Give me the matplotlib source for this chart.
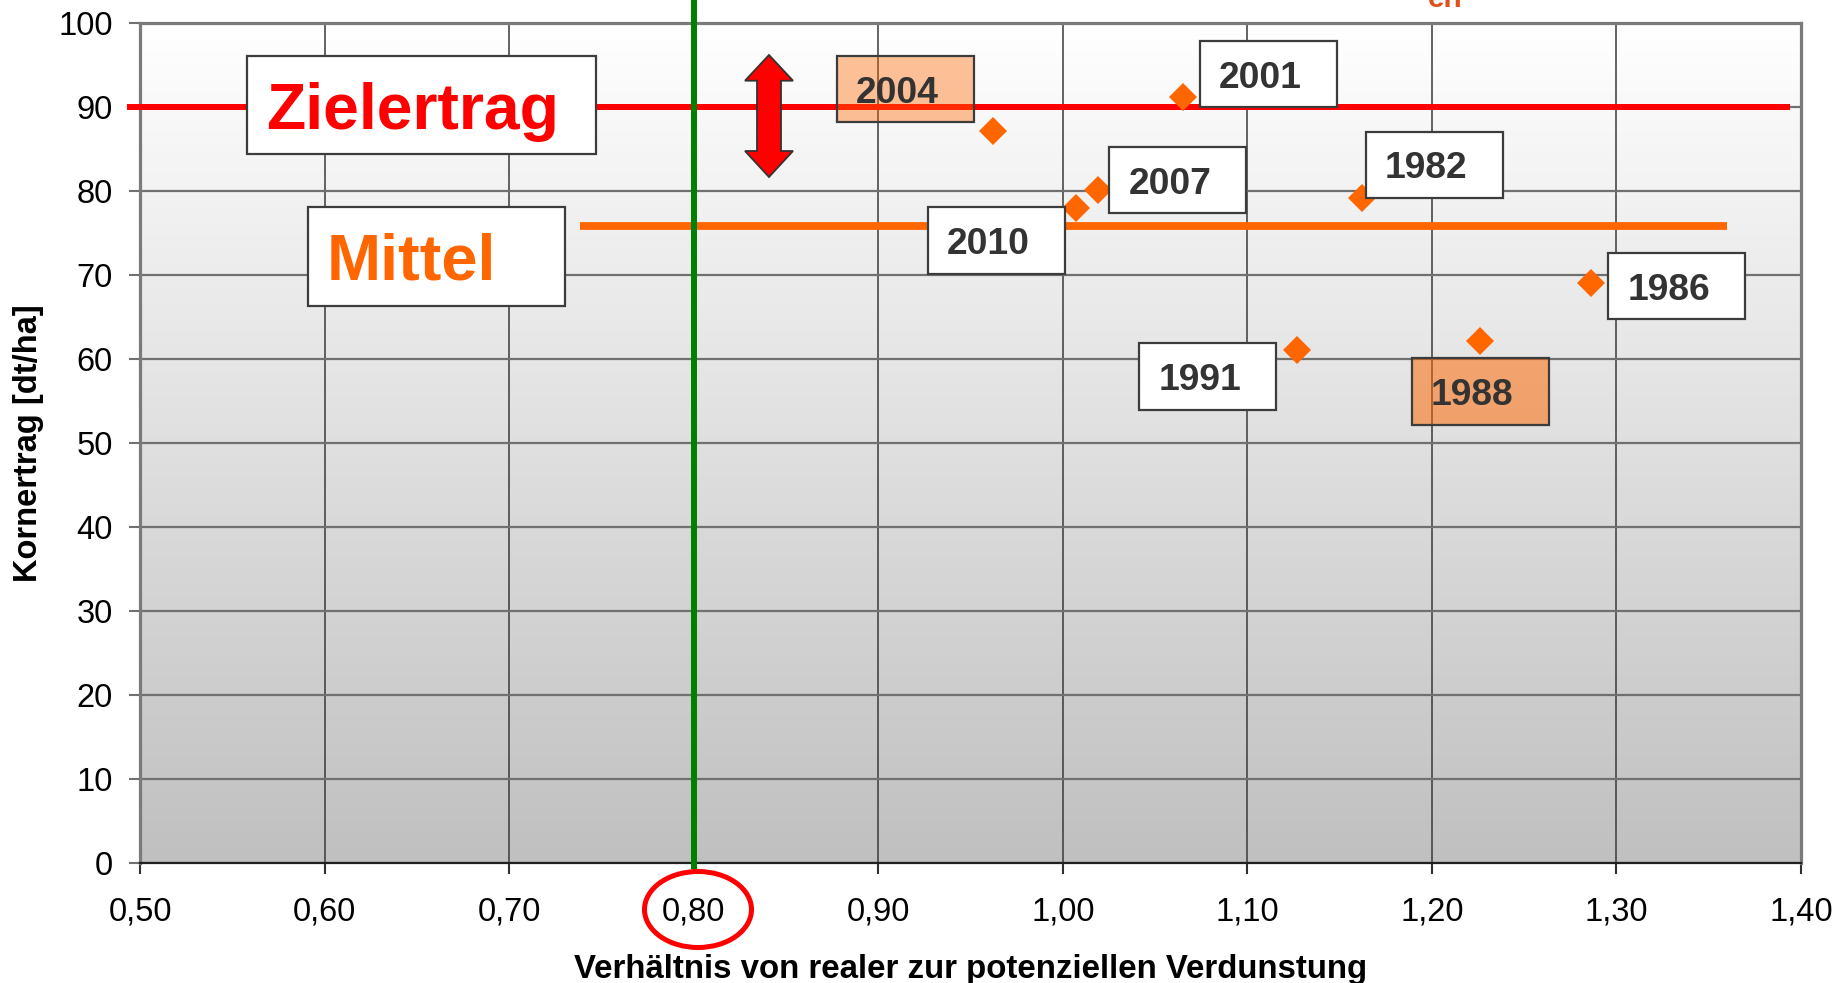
import numpy as np
import matplotlib
matplotlib.use("Agg")
import matplotlib.pyplot as plt
from matplotlib.colors import LinearSegmentedColormap
from matplotlib.patches import Rectangle, Ellipse, Polygon
from matplotlib.ticker import FuncFormatter

plt.rcParams['font.family'] = ['Liberation Sans', 'DejaVu Sans']

# ---- data ----
years = ['2004', '2001', '2007', '2010', '1982', '1986', '1991', '1988']
ratio = [0.962, 1.065, 1.019, 1.007, 1.162, 1.286, 1.127, 1.226]
yield_dt = [87.1, 91.2, 80.1, 78.0, 79.1, 69.0, 61.0, 62.1]
target_yield = 90.0
mean_yield = 75.8
ratio_threshold = 0.80
x_ticks = [0.50, 0.60, 0.70, 0.80, 0.90, 1.00, 1.10, 1.20, 1.30, 1.40]
y_ticks = [0, 10, 20, 30, 40, 50, 60, 70, 80, 90, 100]

# ---- layout (figure pixels, origin top-left) ----
W, H = 1846, 983
box_px = {
    '2004': (837, 55.7), '2001': (1200, 40.7), '2007': (1109.3, 146.7),
    '2010': (927.7, 207.3), '1982': (1366, 131.5), '1986': (1608.3, 252.7),
    '1991': (1139.3, 343.3), '1988': (1411.7, 358.3),
}
box_fill = {'2004': ('#FF6600', 0.40), '1988': ('#FF6600', 0.52)}
BOX_W, BOX_H = 137, 66.5

fig = plt.figure(figsize=(W / 100, H / 100), dpi=100)
ax_l, ax_r, ax_t, ax_b = 140, 1801, 22.7, 862.7
ax = fig.add_axes([ax_l / W, 1 - ax_b / H, (ax_r - ax_l) / W, (ax_b - ax_t) / H])

ax.set_xlim(0.5, 1.4)
ax.set_ylim(0, 100)

# gradient background
cmap = LinearSegmentedColormap.from_list('bg', ['#C0C0C0', '#FFFFFF'])
ax.imshow(np.linspace(1, 0, 256)[:, None], extent=(0.5, 1.4, 0, 100),
          aspect='auto', cmap=cmap, vmin=0, vmax=1, zorder=0)

ax.set_axisbelow(True)
ax.xaxis.grid(True, color='#3a3a3a', lw=1.1)
ax.yaxis.grid(True, color='#707070', lw=1.6)

ax.set_xticks(x_ticks)
ax.set_yticks(y_ticks)
ax.xaxis.set_major_formatter(FuncFormatter(lambda v, p: f"{v:.2f}".replace('.', ',')))
ax.tick_params(axis='both', labelsize=23.5, length=8, width=1.5, color='#707070',
               direction='out')
ax.tick_params(axis='x', pad=16.5, color='#303030')
ax.tick_params(axis='y', pad=11.5)

for s in ['left', 'top', 'right']:
    ax.spines[s].set_color('#7a7a7a')
    ax.spines[s].set_linewidth(2.3)
ax.spines['bottom'].set_color('#202020')
ax.spines['bottom'].set_linewidth(1.6)

# reference lines
ax.plot([0.4928, 1.3938], [target_yield, target_yield], color='#FF0000', lw=4.3,
        solid_capstyle='butt', clip_on=False, zorder=3)
ax.plot([0.7384, 1.360], [mean_yield, mean_yield], color='#FF6600', lw=5.6,
        solid_capstyle='butt', clip_on=False, zorder=3)
ax.plot([ratio_threshold, ratio_threshold], [-0.7, 103], color='#008000', lw=4.3,
        solid_capstyle='butt', clip_on=False, zorder=5)

# data points
ax.plot(ratio, yield_dt, linestyle='none', marker='D', color='#FF6600', ms=14,
        mew=0, zorder=4, clip_on=False)

ax.set_xlabel('Verhältnis von realer zur potenziellen Verdunstung', fontsize=23.8,
              fontweight='bold')
ax.xaxis.set_label_coords(0.5, -0.109)
ax.set_ylabel('Kornertrag [dt/ha]', fontsize=23.5, fontweight='bold')
ax.yaxis.set_label_coords((44 - ax_l) / (ax_r - ax_l), 0.5)


def fx(x):
    return x / W


def fy(y):
    return 1 - y / H


def box(x, y, w, h, fc='white', alpha=1.0, lw=1.6):
    r = Rectangle((fx(x), fy(y + h)), w / W, h / H, transform=fig.transFigure,
                  facecolor=fc, alpha=alpha, edgecolor='none', zorder=10)
    fig.add_artist(r)
    e = Rectangle((fx(x), fy(y + h)), w / W, h / H, transform=fig.transFigure,
                  facecolor='none', edgecolor='#3c3c3c', lw=lw, zorder=11)
    fig.add_artist(e)


# year labels
for yr in years:
    bx, by = box_px[yr]
    fc, a = box_fill.get(yr, ('white', 1.0))
    box(bx, by, BOX_W, BOX_H, fc=fc, alpha=a)
    fig.text(fx(bx + 19), fy(by + 47), yr, fontsize=26.8, fontweight='bold',
             color='#333333', ha='left', va='baseline', zorder=12)

# Zielertrag / Mittel boxes
box(247, 55.7, 348.5, 98.6)
fig.text(fx(266), fy(129.3), 'Zielertrag', fontsize=46.3, fontweight='bold',
         color='#FF0000', ha='left', va='baseline', zorder=12)
box(308, 206.7, 257, 99)
fig.text(fx(326.5), fy(279.3), 'Mittel', fontsize=46.8, fontweight='bold',
         color='#FF6600', ha='left', va='baseline', zorder=12)

# double arrow
cx = 769
pts = [(cx, 55), (cx + 24, 80.7), (cx + 12, 80.7), (cx + 12, 151), (cx + 24, 151),
       (cx, 177), (cx - 24, 151), (cx - 12, 151), (cx - 12, 80.7), (cx - 24, 80.7)]
arrow = Polygon([(fx(px), fy(py)) for px, py in pts], closed=True,
                transform=fig.transFigure, facecolor='#FF0000', edgecolor='#333333',
                lw=1.3, zorder=12)
fig.add_artist(arrow)

# red ellipse around 0,80
ell = Ellipse((fx(698), fy(909.5)), 107 / W, 76 / H, transform=fig.transFigure,
              facecolor='none', edgecolor='#FF0000', lw=3.6, zorder=12)
fig.add_artist(ell)

# partially cut-off text at the top (as in the reference)
fig.text(fx(1428), fy(6.7), 'en', fontsize=21.5, fontweight='bold',
         color='#E0501C', ha='left', va='baseline')

fig.savefig('out.png', dpi=100)
